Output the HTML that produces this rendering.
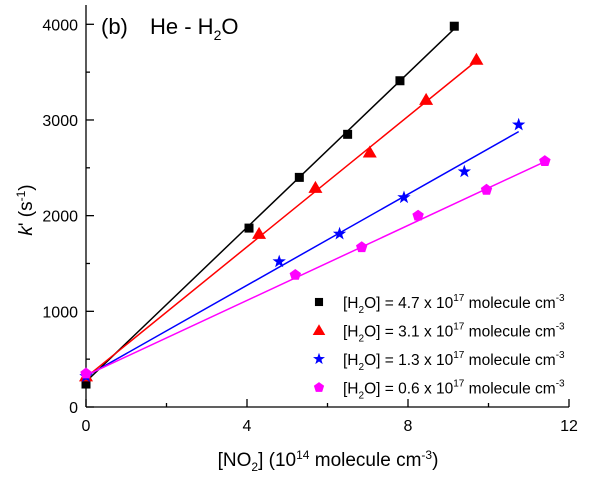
<!DOCTYPE html>
<html><head><style>
html,body{margin:0;padding:0;background:#fff;}
svg text{font-family:"Liberation Sans",Arial,sans-serif;fill:#000;}
</style></head><body>
<svg id="chart" width="600" height="478" xmlns="http://www.w3.org/2000/svg">
<g id="axes"></g>
<g id="plot"></g>
<g id="legend"></g>
<text x="101" y="34" font-size="22">(b)</text>
<text x="150" y="34" font-size="22">He - H<tspan font-size="14" dy="6">2</tspan><tspan dy="-6">O</tspan></text>
<text transform="translate(32,210) rotate(-90)" text-anchor="middle" font-size="19"><tspan font-style="italic">k</tspan>' (s<tspan font-size="12" dy="-7">-1</tspan><tspan dy="7">)</tspan></text>
<text x="328" y="466" text-anchor="middle" font-size="19">[NO<tspan font-size="12" dy="5">2</tspan><tspan dy="-5">] (10</tspan><tspan font-size="12" dy="-7">14</tspan><tspan dy="7"> molecule cm</tspan><tspan font-size="12" dy="-7">-3</tspan><tspan dy="7">)</tspan></text>
</svg>
<script>
const xTicks=[0,4,8,12];
const xMinor=[2,6,10];
const yTicks=[0,1000,2000,3000,4000];
const yMinor=[500,1500,2500,3500];
const seriesNames=["4.7","3.1","1.3","0.6"];
const seriesColors=["#000","#f00","#00f","#f0f"];
const seriesShapes=["square","triangle","star","pentagon"];
const xBlack=[0,4.05,5.3,6.5,7.8,9.15];
const yBlack=[240,1870,2400,2850,3410,3980];
const xRed=[0,4.3,5.7,7.05,8.45,9.7];
const yRed=[320,1810,2290,2660,3210,3630];
const xBlue=[0,4.8,6.3,7.9,9.4,10.75];
const yBlue=[320,1520,1810,2190,2460,2950];
const xMag=[0,5.2,6.85,8.25,9.95,11.4];
const yMag=[350,1380,1670,2000,2270,2570];
const fitIntercepts=[265,310,320,330];
const fitSlopes=[403,341,238,196];

const NS="http://www.w3.org/2000/svg";
const sx=v=>86+v*(569-86)/12;
const sy=v=>407-v*(407-24.3)/4000;
function mk(tag,attrs,parent){const e=document.createElementNS(NS,tag);for(const k in attrs)e.setAttribute(k,attrs[k]);parent.appendChild(e);return e;}
const axes=document.getElementById('axes'),plot=document.getElementById('plot'),legend=document.getElementById('legend');
let e=mk('line',{x1:86,y1:5,x2:86,y2:407,stroke:'#000','stroke-width':1.3},axes);

e=mk('line',{x1:86,y1:407,x2:569,y2:407,stroke:'#000','stroke-width':1.3},axes);

xTicks.forEach(t=>{const l=mk('line',{x1:sx(t),x2:sx(t),y1:407,y2:399,stroke:'#000','stroke-width':1.3},axes);

const tx=mk('text',{x:sx(t),y:431,'text-anchor':'middle','font-size':16},axes);tx.textContent=t;
});
xMinor.forEach(t=>{const l=mk('line',{x1:sx(t),x2:sx(t),y1:407,y2:403,stroke:'#000','stroke-width':1.3},axes);
});
yTicks.forEach(t=>{const l=mk('line',{x1:86,x2:94,y1:sy(t),y2:sy(t),stroke:'#000','stroke-width':1.3},axes);

const tx=mk('text',{x:78,y:sy(t)+6,'text-anchor':'end','font-size':16},axes);tx.textContent=t;
});
yMinor.forEach(t=>{const l=mk('line',{x1:86,x2:90,y1:sy(t),y2:sy(t),stroke:'#000','stroke-width':1.3},axes);
});

function marker(shape,cx,cy,color,parent,s){
 s=s||1;let m;
 if(shape==='square')m=mk('rect',{x:cx-4.5*s,y:cy-4.5*s,width:9*s,height:9*s,fill:color},parent);
 else if(shape==='triangle')m=mk('polygon',{points:`${cx},${cy-7*s} ${cx+7*s},${cy+5*s} ${cx-7*s},${cy+5*s}`,fill:color},parent);
 else if(shape==='star'){let p=[];for(let i=0;i<10;i++){const r=i%2?2.8*s:7*s,a=-Math.PI/2+i*Math.PI/5;p.push((cx+r*Math.cos(a)).toFixed(1)+','+(cy+r*Math.sin(a)).toFixed(1));}m=mk('polygon',{points:p.join(' '),fill:color},parent);}
 else{let p=[];for(let i=0;i<5;i++){const a=-Math.PI/2+i*2*Math.PI/5;p.push((cx+6*s*Math.cos(a)).toFixed(1)+','+(cy+6*s*Math.sin(a)).toFixed(1));}m=mk('polygon',{points:p.join(' '),fill:color},parent);}
 return m;
}
const xs=[xBlack,xRed,xBlue,xMag],ys=[yBlack,yRed,yBlue,yMag];
for(let i=0;i<4;i++){
 const xmax=Math.max(...xs[i]);
 const l=mk('line',{x1:sx(0),y1:sy(fitIntercepts[i]),x2:sx(xmax),y2:sy(fitIntercepts[i]+fitSlopes[i]*xmax),stroke:seriesColors[i],'stroke-width':1.5},plot);
 
 xs[i].forEach((x,j)=>{const m=marker(seriesShapes[i],sx(x),sy(ys[i][j]),seriesColors[i],plot);
 });
 const ly=302+i*28.5;
 const lm=marker(seriesShapes[i],319,ly,seriesColors[i],legend,0.9);
 
 const t=mk('text',{x:343,y:ly+6,'font-size':15.5},legend);
 t.innerHTML=`[H<tspan font-size="10" dy="5">2</tspan><tspan dy="-5">O] = ${seriesNames[i]} x 10</tspan><tspan font-size="10" dy="-7">17</tspan><tspan dy="7"> molecule cm</tspan><tspan font-size="10" dy="-7">-3</tspan>`;
 
}
</script>
</body></html>
